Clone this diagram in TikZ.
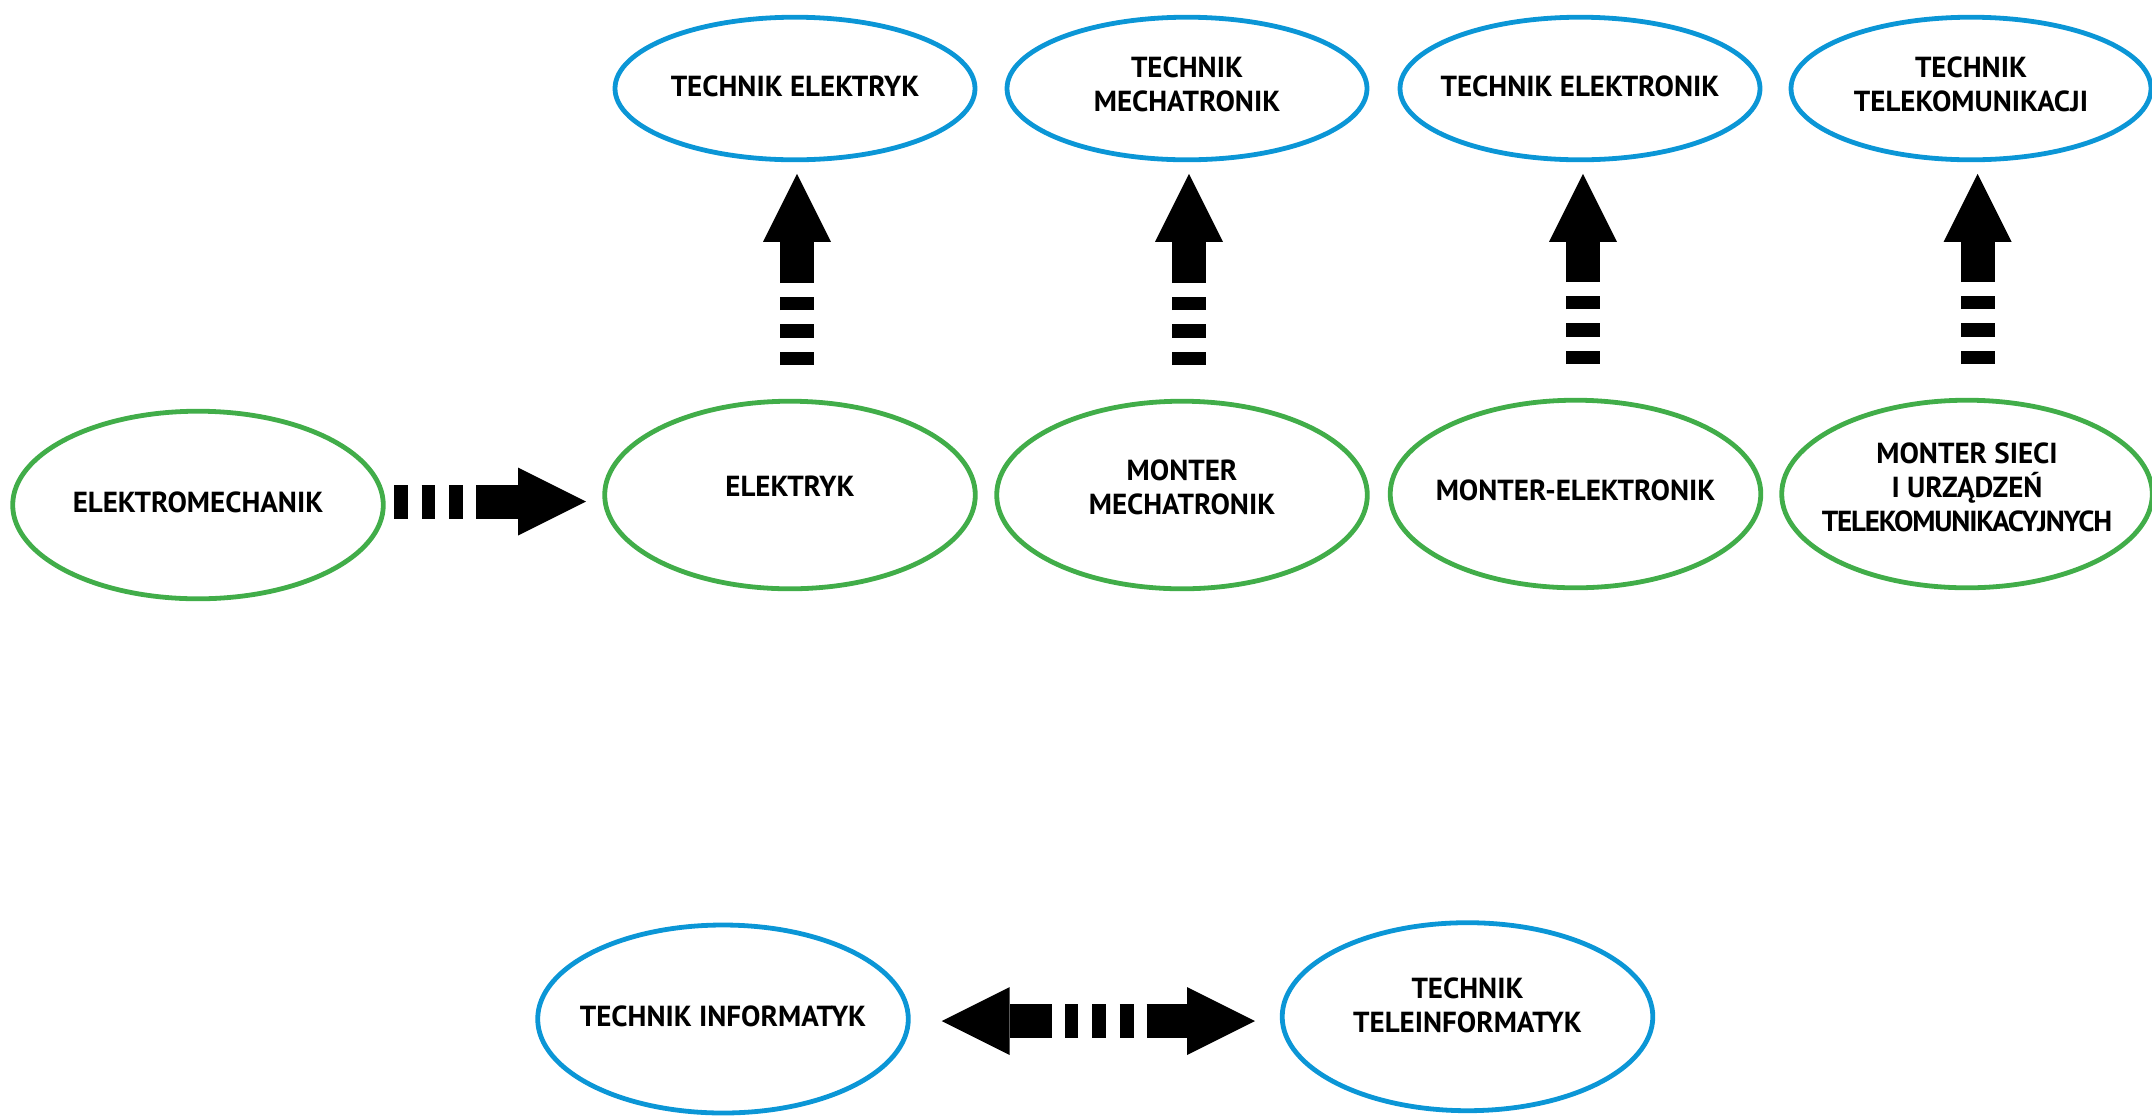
\documentclass[tikz,border=0pt]{standalone}
\usepackage{fontspec}
\setmainfont{PT Sans}
\usetikzlibrary{arrows.meta,shapes.geometric,calc}
\definecolor{ellblue}{RGB}{11,150,214}
\definecolor{ellgreen}{RGB}{65,173,73}
\begin{document}
\begin{tikzpicture}[x=0.5pt,y=-0.5pt,
  ell/.style={ellipse, draw, line width=2.4pt, inner sep=0pt, outer sep=0pt},
  topell/.style={ell, draw=ellblue, minimum width=180pt, minimum height=71.3pt},
  grnell/.style={ell, draw=ellgreen, minimum width=185.3pt, minimum height=93.8pt},
  botell/.style={ell, draw=ellblue, minimum width=185.3pt, minimum height=94pt},
  lbl/.style={font=\bfseries\fontsize{14.5}{17}\selectfont, align=center, inner sep=0pt},
  blockarrow/.style={line width=17pt, -{Triangle[length=34pt,width=34pt,line width=0pt]}},
  threedash/.style={dash pattern=on 6.75pt off 7pt on 6.75pt off 7pt on 6.75pt off 6.75pt on 400pt},
  halfdash/.style={dash pattern=on 3.5pt off 6.9pt on 6.85pt off 6.5pt on 400pt},
]
\useasboundingbox (0,0) rectangle (2152,1115);

% top row (blue)
\node[topell] (t1) at (795,88.5) {};
\node[topell] (t2) at (1187,88.5) {};
\node[topell] (t3) at (1580,88.5) {};
\node[topell] (t4) at (1971,88.5) {};
\node[lbl] (t1l) at ($(t1)+(0,-2)$) {TECHNIK ELEKTRYK};
\node[lbl] (t2l) at ($(t2)+(0,-4)$) {TECHNIK\\MECHATRONIK};
\node[lbl] (t3l) at ($(t3)+(0,-2)$) {TECHNIK ELEKTRONIK};
\node[lbl] (t4l) at ($(t4)+(0,-4)$) {TECHNIK\\TELEKOMUNIKACJI};

% middle row (green)
\node[grnell] (em) at (198,505) {};
\node[grnell] (g1) at (790,495) {};
\node[grnell] (g2) at (1182,495) {};
\node[grnell] (g3) at (1575.5,494) {};
\node[grnell] (g4) at (1967,494) {};
\node[lbl] (eml) at ($(em)+(0,-3)$) {ELEKTROMECHANIK};
\node[lbl] (g1l) at ($(g1)+(0,-9)$) {ELEKTRYK};
\node[lbl] (g2l) at ($(g2)+(0,-8)$) {MONTER\\MECHATRONIK};
\node[lbl] (g3l) at ($(g3)+(0,-4)$) {MONTER-ELEKTRONIK};
\node[lbl] (g4l) at ($(g4)+(0,-6.5)$) {MONTER SIECI\\I URZĄDZEŃ\\{\addfontfeature{LetterSpace=-4}TELEKOMUNIKACYJNYCH}};

% bottom row (blue)
\node[botell] (b1) at (723,1019) {};
\node[botell] (b2) at (1467.5,1016.7) {};
\node[lbl] (b1l) at ($(b1)+(0,-3)$) {TECHNIK INFORMATYK};
\node[lbl] (b2l) at ($(b2)+(0,-11)$) {TECHNIK\\TELEINFORMATYK};

% arrows
\draw[blockarrow, threedash] ($(em.east)+(10.7,-3.5)$) -- ($(em.east -| g1.west)+(-18.7,-3.5)$);
\draw[blockarrow, threedash] ($(g1.north)+(7,-36)$) -- ($(g1.north |- t1.south)+(7,14)$);
\draw[blockarrow, threedash] ($(g2.north)+(7,-36)$) -- ($(g2.north |- t2.south)+(7,14)$);
\draw[blockarrow, threedash] ($(g3.north)+(7.5,-36)$) -- ($(g3.north |- t3.south)+(7.5,14)$);
\draw[blockarrow, threedash] ($(g4.north)+(10.6,-36)$) -- ($(g4.north |- t4.south)+(10.6,14)$);

\coordinate (mid) at (1099,1021);
\draw[blockarrow, halfdash] (mid) -- ($(b1.east |- mid)+(33.4,0)$);
\draw[blockarrow, halfdash] (mid) -- ($(b2.west |- mid)+(-27.2,0)$);
\end{tikzpicture}
\end{document}
